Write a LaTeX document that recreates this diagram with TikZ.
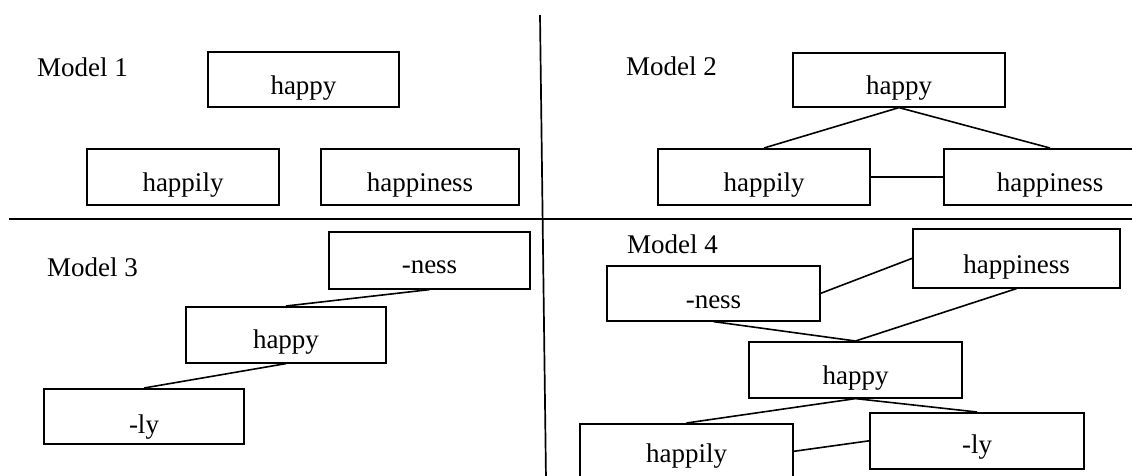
\documentclass[tikz,border=0pt]{standalone}
\usepackage{fontspec}
\setmainfont{Liberation Serif}
\begin{document}
\begin{tikzpicture}[x=1pt,y=-1pt,
  every node/.style={font=\fontsize{27}{31}\selectfont},
  wbox/.style={draw, line width=1.6pt, inner sep=0pt, anchor=north},
  link/.style={line width=1.6pt},
  divider/.style={line width=1.7pt},
  modellabel/.style={anchor=base west, inner sep=0pt}]
\useasboundingbox (0,0) rectangle (1132,475);
\clip (0,0) rectangle (1132,475);

% quadrant dividers
\coordinate (vtop) at (540,15);
\coordinate (vbot) at (546,480);
\coordinate (hl) at (9,219);
\coordinate (hr) at (1140,219);
\draw[divider] (vtop) -- (vbot);
\draw[divider] (hl) -- (hr);

% Model 1: three unconnected words
\node[modellabel] (lab1) at (37,76) {Model 1};
\node[wbox, minimum width=191, text height=43, text depth=12] (m1happy) at (303.5,51) {happy};
\node[wbox, minimum width=192, text height=43, text depth=13] (m1happily) at (183,148) {happily};
\node[wbox, minimum width=198, text height=43, text depth=13] (m1happiness) at (420,148) {happiness};

% Model 2: stem linked to both derived words
\node[modellabel] (lab2) at (626,75) {Model 2};
\node[wbox, minimum width=212, text height=42, text depth=12] (m2happy) at (899,52) {happy};
\node[wbox, minimum width=212, text height=43, text depth=13] (m2happily) at (764,148) {happily};
\node[wbox, minimum width=212, text height=43, text depth=13] (m2happiness) at (1050,148) {happiness};
\draw[link] (m2happy.south) -- (m2happily.north);
\draw[link] (m2happy.south) -- (m2happiness.north);
\draw[link] (m2happily.east) -- (m2happiness.west);

% Model 3: stem with affixes
\node[modellabel] (lab3) at (47,276) {Model 3};
\node[wbox, minimum width=201, text height=42, text depth=15] (m3ness) at (429.5,231) {-ness};
\node[wbox, minimum width=200, text height=42, text depth=14] (m3happy) at (286,306) {happy};
\node[wbox, minimum width=200, text height=45, text depth=10] (m3ly) at (144,388) {-ly};
\draw[link] (m3ness.south) -- (m3happy.north);
\draw[link] (m3happy.south) -- (m3ly.north);

% Model 4: stem, affixes and derived words
\node[modellabel] (lab4) at (627,253) {Model 4};
\node[wbox, minimum width=213, text height=43, text depth=12] (m4ness) at (713.5,265) {-ness};
\node[wbox, minimum width=207, text height=45, text depth=14] (m4happiness) at (1016.5,228) {happiness};
\node[wbox, minimum width=213, text height=43, text depth=13] (m4happy) at (855.5,341) {happy};
\node[wbox, minimum width=213, text height=39, text depth=16] (m4happily) at (686.5,423) {happily};
\node[wbox, minimum width=214, text height=41, text depth=15] (m4ly) at (977,412) {-ly};
\draw[link] (m4ness.east) -- (m4happiness.west);
\draw[link] (m4happiness.south) -- (m4happy.north);
\draw[link] (m4ness.south) -- (m4happy.north);
\draw[link] (m4happy.south) -- (m4happily.north);
\draw[link] (m4happy.south) -- (m4ly.north);
\draw[link] (m4happily.east) -- (m4ly.west);
\end{tikzpicture}
\end{document}
